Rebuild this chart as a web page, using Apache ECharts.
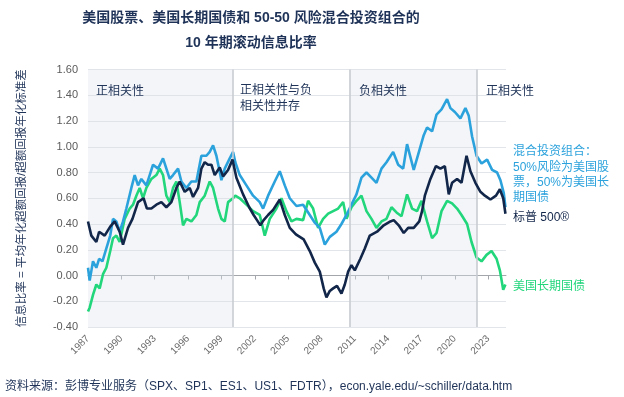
<!DOCTYPE html>
<html>
<head>
<meta charset="utf-8">
<script src="https://cdn.jsdelivr.net/npm/echarts@6/dist/echarts.min.js"></script>
<style>
html,body{margin:0;padding:0;background:#fff}
#chart{width:624px;height:397px}
</style>
</head>
<body>
<div id="chart"></div>
<script>
var FONT = '"Liberation Sans", "Noto Sans CJK SC", sans-serif';
var NAVY = '#12264a';
var BLUE = '#2ca2dc';
var GREEN = '#22d67c';

var yearTicks = [1987, 1990, 1993, 1996, 1999, 2002, 2005, 2008, 2011, 2014, 2017, 2020, 2023];

// 标普 500
var spData = [
 [1987.0,0.42],[1987.3,0.31],[1987.75,0.26],[1988.0,0.34],[1988.5,0.31],[1989.0,0.38],[1989.4,0.42],
 [1989.85,0.34],[1990.15,0.24],[1990.6,0.37],[1991.0,0.44],[1991.5,0.57],[1992.0,0.60],[1992.3,0.52],
 [1992.7,0.52],[1993.15,0.55],[1993.6,0.57],[1994.05,0.53],[1994.5,0.57],[1994.95,0.68],[1995.25,0.73],
 [1995.7,0.65],[1996.15,0.68],[1996.45,0.61],[1996.9,0.68],[1997.2,0.83],[1997.5,0.88],[1997.8,0.86],
 [1998.1,0.86],[1998.4,0.78],[1998.85,0.84],[1999.15,0.77],[1999.6,0.82],[2000.0,0.90],[2000.35,0.76],
 [2000.95,0.63],[2001.5,0.53],[2001.9,0.47],[2002.2,0.43],[2002.5,0.39],[2002.8,0.43],[2003.2,0.47],
 [2003.65,0.51],[2004.25,0.59],[2004.7,0.47],[2005.15,0.37],[2005.7,0.32],[2006.4,0.28],[2006.95,0.19],
 [2007.4,0.10],[2007.85,0.03],[2008.2,-0.10],[2008.45,-0.17],[2008.75,-0.12],[2009.05,-0.10],[2009.4,-0.08],
 [2009.8,-0.14],[2010.1,-0.07],[2010.4,0.03],[2010.7,0.08],[2011.0,0.04],[2011.5,0.13],[2011.9,0.21],
 [2012.35,0.31],[2013.0,0.34],[2013.6,0.39],[2014.2,0.42],[2014.5,0.43],[2014.95,0.39],[2015.4,0.33],
 [2015.8,0.37],[2016.3,0.37],[2016.8,0.42],[2017.05,0.50],[2017.3,0.62],[2017.8,0.75],[2018.3,0.85],
 [2018.7,0.83],[2019.1,0.85],[2019.45,0.63],[2019.75,0.72],[2020.2,0.75],[2020.6,0.72],[2021.05,0.93],
 [2021.4,0.81],[2021.85,0.72],[2022.3,0.65],[2022.7,0.62],[2023.2,0.59],[2023.7,0.62],[2024.05,0.67],
 [2024.35,0.60],[2024.55,0.48]
];

// 混合投资组合
var mixData = [
 [1987.0,0.06],[1987.15,-0.04],[1987.45,0.11],[1987.75,0.06],[1988.0,0.13],[1988.3,0.11],[1988.65,0.21],
 [1989.0,0.31],[1989.25,0.44],[1989.55,0.42],[1989.85,0.34],[1990.15,0.42],[1990.45,0.52],[1990.9,0.68],
 [1991.2,0.78],[1991.5,0.70],[1991.8,0.75],[1992.25,0.70],[1992.55,0.78],[1992.85,0.86],[1993.3,0.83],
 [1993.75,0.91],[1994.05,0.83],[1994.35,0.75],[1994.65,0.78],[1995.1,0.83],[1995.4,0.73],[1995.85,0.68],
 [1996.3,0.73],[1996.75,0.73],[1997.2,0.93],[1997.65,0.93],[1997.95,0.96],[1998.25,1.01],[1998.55,0.93],
 [1999.0,0.74],[1999.3,0.83],[1999.75,0.91],[2000.05,0.96],[2000.25,0.88],[2000.65,0.78],[2001.25,0.70],
 [2001.85,0.62],[2002.45,0.57],[2002.75,0.52],[2003.2,0.62],[2003.8,0.73],[2004.25,0.81],[2004.7,0.70],
 [2005.15,0.60],[2005.75,0.54],[2006.35,0.55],[2006.95,0.47],[2007.4,0.41],[2007.85,0.37],[2008.3,0.24],
 [2008.75,0.30],[2009.35,0.34],[2009.8,0.40],[2010.25,0.47],[2010.7,0.55],[2011.15,0.63],[2011.6,0.76],
 [2012.05,0.80],[2012.5,0.76],[2012.95,0.72],[2013.4,0.83],[2013.85,0.88],[2014.45,0.96],[2014.9,0.86],
 [2015.35,0.83],[2015.7,1.02],[2016.3,0.82],[2016.8,0.97],[2017.2,1.09],[2017.5,1.15],[2017.95,1.12],
 [2018.35,1.25],[2018.8,1.29],[2019.3,1.37],[2019.6,1.30],[2020.0,1.27],[2020.5,1.22],[2020.95,1.30],
 [2021.25,1.24],[2021.55,1.08],[2021.95,0.93],[2022.4,0.87],[2022.9,0.90],[2023.35,0.82],[2023.8,0.80],
 [2024.1,0.74],[2024.4,0.64],[2024.55,0.53]
];

// 美国长期国债
var bondData = [
 [1987.0,-0.28],[1987.15,-0.25],[1987.45,-0.15],[1987.75,-0.07],[1988.05,-0.10],[1988.35,0.01],[1988.65,0.06],
 [1989.0,0.19],[1989.25,0.29],[1989.55,0.31],[1989.85,0.26],[1990.3,0.44],[1990.75,0.52],[1991.05,0.55],
 [1991.35,0.62],[1991.65,0.68],[1991.95,0.60],[1992.25,0.68],[1992.7,0.75],[1993.15,0.78],[1993.45,0.83],
 [1993.75,0.78],[1994.05,0.62],[1994.35,0.57],[1994.65,0.68],[1994.95,0.73],[1995.25,0.57],[1995.55,0.39],
 [1995.85,0.44],[1996.3,0.42],[1996.75,0.47],[1997.05,0.57],[1997.5,0.62],[1997.95,0.73],[1998.25,0.68],
 [1998.7,0.52],[1999.0,0.44],[1999.3,0.42],[1999.6,0.57],[2000.05,0.60],[2000.25,0.62],[2000.65,0.60],
 [2001.25,0.55],[2001.85,0.50],[2002.45,0.47],[2002.9,0.31],[2003.35,0.44],[2003.95,0.52],[2004.4,0.60],
 [2004.85,0.50],[2005.3,0.42],[2005.75,0.44],[2006.35,0.43],[2006.8,0.58],[2007.25,0.52],[2007.7,0.37],
 [2008.15,0.44],[2008.6,0.48],[2009.05,0.50],[2009.5,0.52],[2009.95,0.57],[2010.25,0.44],[2010.7,0.53],
 [2011.15,0.58],[2011.6,0.62],[2012.05,0.50],[2012.5,0.44],[2012.95,0.37],[2013.4,0.42],[2013.85,0.44],
 [2014.3,0.53],[2014.75,0.49],[2015.2,0.46],[2015.7,0.63],[2016.15,0.52],[2016.6,0.50],[2017.0,0.58],
 [2017.5,0.42],[2017.95,0.29],[2018.35,0.33],[2018.8,0.50],[2019.3,0.58],[2019.75,0.56],[2020.2,0.52],
 [2020.6,0.47],[2021.1,0.40],[2021.5,0.26],[2021.95,0.14],[2022.4,0.11],[2022.85,0.16],[2023.3,0.19],
 [2023.75,0.13],[2024.05,0.04],[2024.35,-0.11],[2024.55,-0.07]
];

var shadedRegions = [[1987, 2000], [2010.5, 2022]];
var regionBounds = [2000, 2010.5, 2022];

var chart = echarts.init(document.getElementById('chart'));

function txt(x, y, text, color, size, weight, align, lh) {
 return {
  type: 'text', x: x, y: y, z: 100, silent: true,
  style: {
   text: text, fill: color, fontSize: size, fontWeight: weight || 'normal',
   fontFamily: FONT, align: align || 'left', verticalAlign: 'middle', lineHeight: lh || size + 4
  }
 };
}

var option = {
 animation: false,
 backgroundColor: '#fff',
 grid: { left: 88, right: 118, top: 69.5, bottom: 70, containLabel: false },
 xAxis: [
  {
   type: 'value', min: 1987, max: 2024.6,
   axisLine: { show: true, onZero: true, lineStyle: { color: '#a3a7ac', width: 1 } },
   axisTick: { show: true, length: 4, customValues: yearTicks, lineStyle: { color: '#a3a7ac' } },
   axisLabel: { show: false },
   splitLine: { show: false }
  },
  {
   type: 'value', min: 1987, max: 2024.6, position: 'bottom',
   axisLine: { show: false, onZero: false },
   axisTick: { show: false },
   axisLabel: {
    show: true, rotate: 45, margin: 10, color: '#6b6b6b', fontSize: 10, fontFamily: FONT,
    customValues: yearTicks, formatter: function (v) { return String(Math.round(v)); }
   },
   splitLine: { show: false }
  }
 ],
 yAxis: {
  type: 'value', min: -0.4, max: 1.6, interval: 0.2,
  name: '信息比率 = 平均年化超额回报/超额回报年化标准差',
  nameLocation: 'middle', nameRotate: 90, nameGap: 60,
  nameTextStyle: { color: '#1f3358', fontSize: 11.5, fontFamily: FONT },
  axisLine: { show: false }, axisTick: { show: false },
  axisLabel: { color: '#5a5a5a', fontSize: 11, fontFamily: FONT, margin: 10,
   formatter: function (v) { return v.toFixed(2); } },
  splitLine: { show: true, lineStyle: { color: '#e2e5e9', width: 1 } }
 },
 series: [
  {
   type: 'line', data: [], z: 1, silent: true,
   markArea: {
    silent: true,
    itemStyle: { color: 'rgba(220,226,234,0.35)' },
    data: shadedRegions.map(function (r) { return [{ xAxis: r[0] }, { xAxis: r[1] }]; })
   },
   markLine: {
    silent: true, symbol: 'none', label: { show: false },
    lineStyle: { color: '#c8ccd1', width: 1.6, type: 'solid' },
    data: regionBounds.map(function (b) { return { xAxis: b }; })
   }
  },
  { name: '美国长期国债', type: 'line', data: bondData, showSymbol: false, z: 3,
    lineStyle: { color: GREEN, width: 2.6 }, itemStyle: { color: GREEN } },
  { name: '混合投资组合', type: 'line', data: mixData, showSymbol: false, z: 4,
    lineStyle: { color: BLUE, width: 2.6 }, itemStyle: { color: BLUE } },
  { name: '标普 500®', type: 'line', data: spData, showSymbol: false, z: 5,
    lineStyle: { color: NAVY, width: 2.6 }, itemStyle: { color: NAVY } }
 ],
 graphic: [
  txt(251, 18, '美国股票、美国长期国债和 50-50 风险混合投资组合的', '#1f3358', 14, 'bold', 'center'),
  txt(251, 43, '10 年期滚动信息比率', '#1f3358', 14, 'bold', 'center'),
  txt(96, 92, '正相关性', '#1f3358', 12),
  txt(240, 99, '正相关性与负\n相关性并存', '#1f3358', 12, 'normal', 'left', 16),
  txt(359, 92, '负相关性', '#1f3358', 12),
  txt(486, 92, '正相关性', '#1f3358', 12),
  txt(513, 175, '混合投资组合：\n50%风险为美国股\n票，50%为美国长\n期国债', BLUE, 12, 'normal', 'left', 15.4),
  txt(513, 218, '标普 500®', NAVY, 12),
  txt(513, 287, '美国长期国债', GREEN, 12),
  txt(5, 387, '资料来源：彭博专业服务（SPX、SP1、ES1、US1、FDTR），econ.yale.edu/~schiller/data.htm', '#1f3358', 12)
 ]
};

chart.setOption(option);
</script>
</body>
</html>
